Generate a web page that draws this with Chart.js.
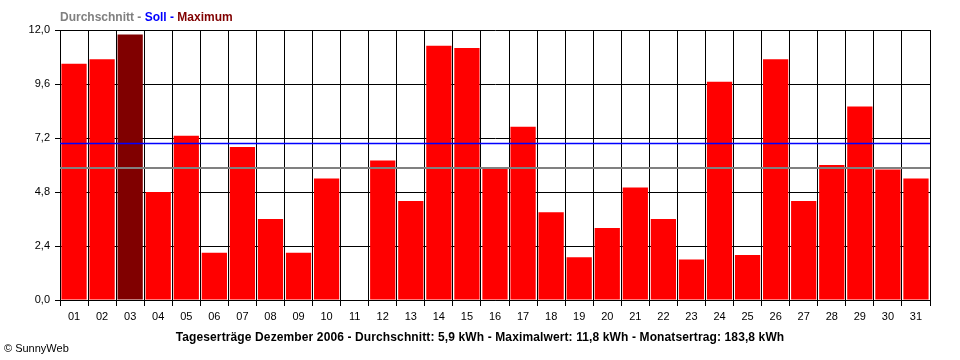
<!DOCTYPE html>
<html>
<head>
<meta charset="utf-8">
<title>Tageserträge Dezember 2006</title>
<script src="https://cdn.jsdelivr.net/npm/chart.js@4.4.3/dist/chart.umd.min.js"></script>
<style>
  html, body { margin: 0; padding: 0; background: #fff; }
  #wrap { width: 960px; height: 360px; }
</style>
</head>
<body>
<div id="wrap"><canvas id="chart" width="960" height="360"></canvas></div>
<script>
// ─────────────────────────────────────────────────────────────────────────────
// Data
// ─────────────────────────────────────────────────────────────────────────────

const days = ['01', '02', '03', '04', '05', '06', '07', '08', '09', '10',
  '11', '12', '13', '14', '15', '16', '17', '18', '19', '20',
  '21', '22', '23', '24', '25', '26', '27', '28', '29', '30', '31'];

const dailyKwh = [10.5, 10.7, 11.8, 4.8, 7.3, 2.1, 6.8, 3.6, 2.1, 5.4,
  0.0, 6.2, 4.4, 11.3, 11.2, 5.9, 7.7, 3.9, 1.9, 3.2,
  5.0, 3.6, 1.8, 9.7, 2.0, 10.7, 4.4, 6.0, 8.6, 5.8, 5.4];

const yTicks = [0, 2.4, 4.8, 7.2, 9.6, 12.0];

const averageKwh = 5.9;   // Durchschnitt
const targetKwh  = 7.0;   // Soll

const legendParts = [
  ['Durchschnitt - ', '#808080'],
  ['Soll - ', '#0000ff'],
  ['Maximum', '#800000'],
];

const footerTitle = 'Tageserträge Dezember 2006 - Durchschnitt: 5,9 kWh - Maximalwert: 11,8 kWh - Monatsertrag: 183,8 kWh';
const copyright = '© SunnyWeb';

// ─────────────────────────────────────────────────────────────────────────────
// Helpers
// ─────────────────────────────────────────────────────────────────────────────

const FONT = "'Liberation Sans', Arial, sans-serif";
const maxKwh = Math.max(...dailyKwh);
const barColors = dailyKwh.map(v => v === maxKwh ? '#800000' : '#ff0000');
const fmt = v => Number(v).toFixed(1).replace('.', ',');

// reference lines (avg / soll) drawn over the bars, plus the texts around the plot
const overlayPlugin = {
  id: 'sunnyOverlay',
  afterDatasetsDraw(chart) {
    const { ctx, chartArea: a, scales: { y } } = chart;
    ctx.save();
    const yAvg = Math.round(y.getPixelForValue(averageKwh)) + 1;
    ctx.strokeStyle = '#808080';
    ctx.lineWidth = 2;
    ctx.beginPath(); ctx.moveTo(a.left, yAvg); ctx.lineTo(a.right, yAvg); ctx.stroke();

    const ySoll = Math.round(y.getPixelForValue(targetKwh)) + 0.5;
    ctx.strokeStyle = '#0000ff';
    ctx.lineWidth = 1.5;
    ctx.beginPath(); ctx.moveTo(a.left, ySoll); ctx.lineTo(a.right, ySoll); ctx.stroke();
    ctx.restore();
  },
  afterDraw(chart) {
    const { ctx } = chart;
    ctx.save();
    ctx.textBaseline = 'alphabetic';
    ctx.font = `bold 12px ${FONT}`;
    let x = 60;
    legendParts.forEach(([txt, col]) => {
      ctx.fillStyle = col;
      ctx.fillText(txt, x, 21);
      x += ctx.measureText(txt).width;
    });

    ctx.fillStyle = '#000';
    ctx.textAlign = 'center';
    ctx.letterSpacing = '0.12px';
    ctx.fillText(footerTitle, 480, 341);
    ctx.letterSpacing = '0px';

    ctx.font = `11px ${FONT}`;
    ctx.textAlign = 'left';
    ctx.fillText(copyright, 4, 352);
    ctx.restore();
  },
};

// ─────────────────────────────────────────────────────────────────────────────
// Chart
// ─────────────────────────────────────────────────────────────────────────────

new Chart(document.getElementById('chart'), {
  type: 'bar',
  data: {
    labels: days,
    datasets: [{
      label: 'Tagesertrag',
      data: dailyKwh,
      backgroundColor: barColors,
      borderWidth: 0,
      barPercentage: 0.9,
      categoryPercentage: 1.0,
    }],
  },
  options: {
    responsive: false,
    animation: false,
    devicePixelRatio: 1,
    layout: { padding: { left: 0, right: 30, top: 30, bottom: 0 } },
    plugins: {
      legend: { display: false },
      title: { display: false },
      tooltip: { enabled: false },
    },
    scales: {
      x: {
        offset: true,
        afterFit: s => { s.height = 60; },
        border: { color: '#000', width: 1 },
        grid: { color: '#000', lineWidth: 1, offset: true, tickLength: 6 },
        ticks: { color: '#000', font: { family: FONT, size: 11 }, padding: 4, maxRotation: 0, autoSkip: false },
      },
      y: {
        min: 0,
        max: 12,
        afterFit: s => { s.width = 60; },
        afterBuildTicks: s => { s.ticks = yTicks.map(v => ({ value: v })); },
        border: { color: '#000', width: 1 },
        grid: { color: '#000', lineWidth: 1, tickLength: 5 },
        ticks: { color: '#000', font: { family: FONT, size: 11 }, padding: 5, callback: v => fmt(v) },
      },
    },
  },
  plugins: [overlayPlugin],
});
</script>
</body>
</html>
